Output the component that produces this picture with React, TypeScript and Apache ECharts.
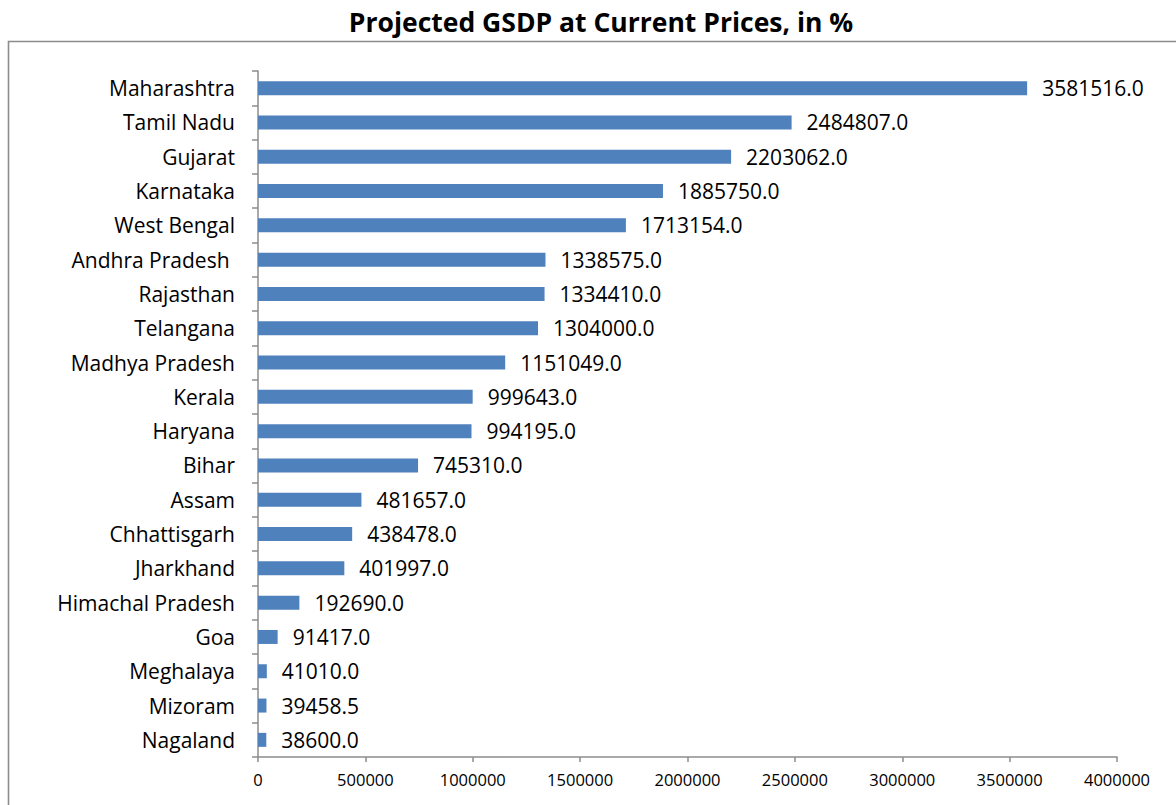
import React, { useEffect, useRef } from "react";
import * as echarts from "echarts";

const categories = [
  "Maharashtra",
  "Tamil Nadu",
  "Gujarat",
  "Karnataka",
  "West Bengal",
  "Andhra Pradesh ",
  "Rajasthan",
  "Telangana",
  "Madhya Pradesh",
  "Kerala",
  "Haryana",
  "Bihar",
  "Assam",
  "Chhattisgarh",
  "Jharkhand",
  "Himachal Pradesh",
  "Goa",
  "Meghalaya",
  "Mizoram",
  "Nagaland",
];

const gsdpValues = [
  3581516.0, 2484807.0, 2203062.0, 1885750.0, 1713154.0, 1338575.0, 1334410.0,
  1304000.0, 1151049.0, 999643.0, 994195.0, 745310.0, 481657.0, 438478.0,
  401997.0, 192690.0, 91417.0, 41010.0, 39458.5, 38600.0,
];

const titleText = "Projected GSDP at Current Prices, in %";
const FONT = "'Open Sans', Lato, sans-serif";

export default function App() {
  const ref = useRef<HTMLDivElement>(null);
  useEffect(() => {
    if (!ref.current) return;
    const chart = echarts.init(ref.current, null, { renderer: "svg" });
    chart.setOption({
      animation: false,
      backgroundColor: "#ffffff",
      title: {
        text: titleText,
        left: 596,
        textAlign: "center",
        top: 3,
        textStyle: {
          fontFamily: FONT,
          fontSize: 26.5,
          fontWeight: "bold",
          color: "#000",
        },
      },
      graphic: [
        {
          type: "rect",
          shape: { x: 8.5, y: 41.5, width: 1300, height: 900 },
          style: { fill: "none", stroke: "#8c8c8c", lineWidth: 1.6 },
          silent: true,
          z: -1,
        },
      ],
      grid: { left: 258, top: 71, right: 59, bottom: 48, containLabel: false },
      xAxis: {
        type: "value",
        min: 0,
        max: 4000000,
        interval: 500000,
        splitLine: { show: false },
        axisLine: { show: true, lineStyle: { color: "#8c8c8c", width: 1.5 } },
        axisTick: { show: true, length: 5, lineStyle: { color: "#8c8c8c", width: 1.5 } },
        axisLabel: {
          fontFamily: FONT,
          fontSize: 16.5,
          color: "#000",
          margin: 14,
          formatter: (v: number) => String(v),
        },
      },
      yAxis: {
        type: "category",
        data: categories,
        inverse: true,
        axisLine: { show: true, lineStyle: { color: "#8c8c8c", width: 1.5 } },
        axisTick: { show: true, length: 6, lineStyle: { color: "#8c8c8c", width: 1.5 } },
        axisLabel: {
          fontFamily: FONT,
          fontSize: 21,
          color: "#000",
          margin: 23,
        },
      },
      series: [
        {
          type: "bar",
          data: gsdpValues,
          barWidth: 14,
          itemStyle: { color: "#4f81bd" },
          label: {
            show: true,
            position: "right",
            distance: 15,
            fontFamily: FONT,
            fontSize: 21,
            color: "#000",
            formatter: (p: any) => Number(p.value).toFixed(1),
          },
        },
      ],
    });
    return () => chart.dispose();
  }, []);
  return (
    <div
      ref={ref}
      style={{ position: "fixed", left: 0, top: 0, width: 1176, height: 805 }}
    />
  );
}
